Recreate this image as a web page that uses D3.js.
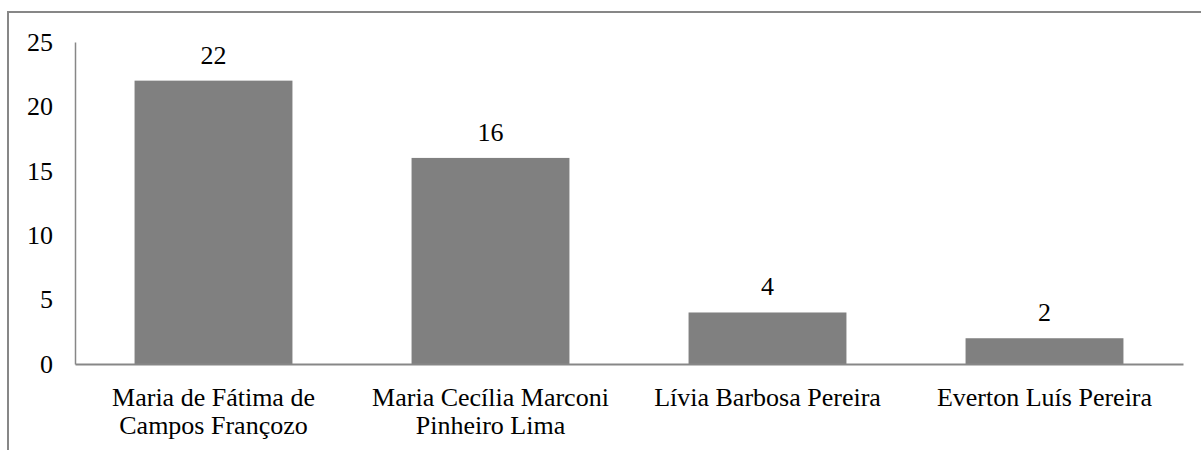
<!DOCTYPE html>
<html>
<head>
<meta charset="utf-8">
<script src="https://cdn.jsdelivr.net/npm/d3@7"></script>
<style>
  html, body { margin: 0; padding: 0; background: #fff; }
  svg { display: block; }
</style>
</head>
<body>
<svg id="chart" width="1201" height="450"></svg>
<script>
// Number of items per person
const categories = [
  ["Maria de Fátima de", "Campos Françozo"],
  ["Maria Cecília Marconi", "Pinheiro Lima"],
  ["Lívia Barbosa Pereira"],
  ["Everton Luís Pereira"]
];
const values = [22, 16, 4, 2];
const yTicks = [0, 5, 10, 15, 20, 25];

const svg = d3.select("#chart");
const W = 1201, H = 450;
const plot = { left: 75, right: 1183, top: 42, bottom: 364 };
const axisColor = "#878787";
const fontSize = 26;
const serif = "'Liberation Serif', Tinos, 'Times New Roman', Times, 'DejaVu Serif', serif";

// Outer chart frame (top and left edges visible)
svg.append("path")
  .attr("d", `M8,${H} L8,12 L${W},12`)
  .attr("fill", "none")
  .attr("stroke", axisColor)
  .attr("stroke-width", 2);

const x = d3.scaleBand()
  .domain(d3.range(categories.length))
  .range([plot.left, plot.right])
  .paddingInner(0.43)
  .paddingOuter(0.215);

const y = d3.scaleLinear()
  .domain([0, 25])
  .range([plot.bottom, plot.top]);

// Bars
svg.append("g").selectAll("rect")
  .data(values)
  .join("rect")
  .attr("x", (d, i) => x(i))
  .attr("y", d => y(d))
  .attr("width", x.bandwidth())
  .attr("height", d => y(0) - y(d))
  .attr("fill", "#808080");

// Y axis
const yAxis = svg.append("g")
  .attr("transform", `translate(${plot.left},0)`)
  .call(d3.axisLeft(y).tickValues(yTicks).tickSize(0).tickPadding(22));
yAxis.attr("font-family", null).attr("font-size", null);
yAxis.select(".domain").attr("stroke", axisColor).attr("stroke-width", 1.5);
yAxis.selectAll("text")
  .style("font-family", serif)
  .style("font-size", fontSize + "px")
  .attr("fill", "#000");

// X axis line
const xAxis = svg.append("g")
  .attr("transform", `translate(0,${plot.bottom})`)
  .call(d3.axisBottom(x).tickSize(0).tickFormat(""));
xAxis.select(".domain").attr("stroke", axisColor).attr("stroke-width", 2);

// Category labels (wrapped on two lines where needed)
const lbl = svg.append("g").selectAll("text")
  .data(categories)
  .join("text")
  .attr("text-anchor", "middle")
  .style("font-family", serif)
  .style("font-size", fontSize + "px")
  .attr("fill", "#000")
  .attr("x", (d, i) => x(i) + x.bandwidth() / 2)
  .attr("y", 406);
lbl.selectAll("tspan")
  .data(d => d)
  .join("tspan")
  .attr("x", function() { return this.parentNode.getAttribute("x"); })
  .attr("dy", (d, j) => j === 0 ? 0 : 28)
  .text(d => d);

// Value labels
svg.append("g").selectAll("text")
  .data(values)
  .join("text")
  .attr("text-anchor", "middle")
  .style("font-family", serif)
  .style("font-size", fontSize + "px")
  .attr("fill", "#000")
  .attr("x", (d, i) => x(i) + x.bandwidth() / 2)
  .attr("y", d => y(d) - 17)
  .text(d => d);
</script>
</body>
</html>
